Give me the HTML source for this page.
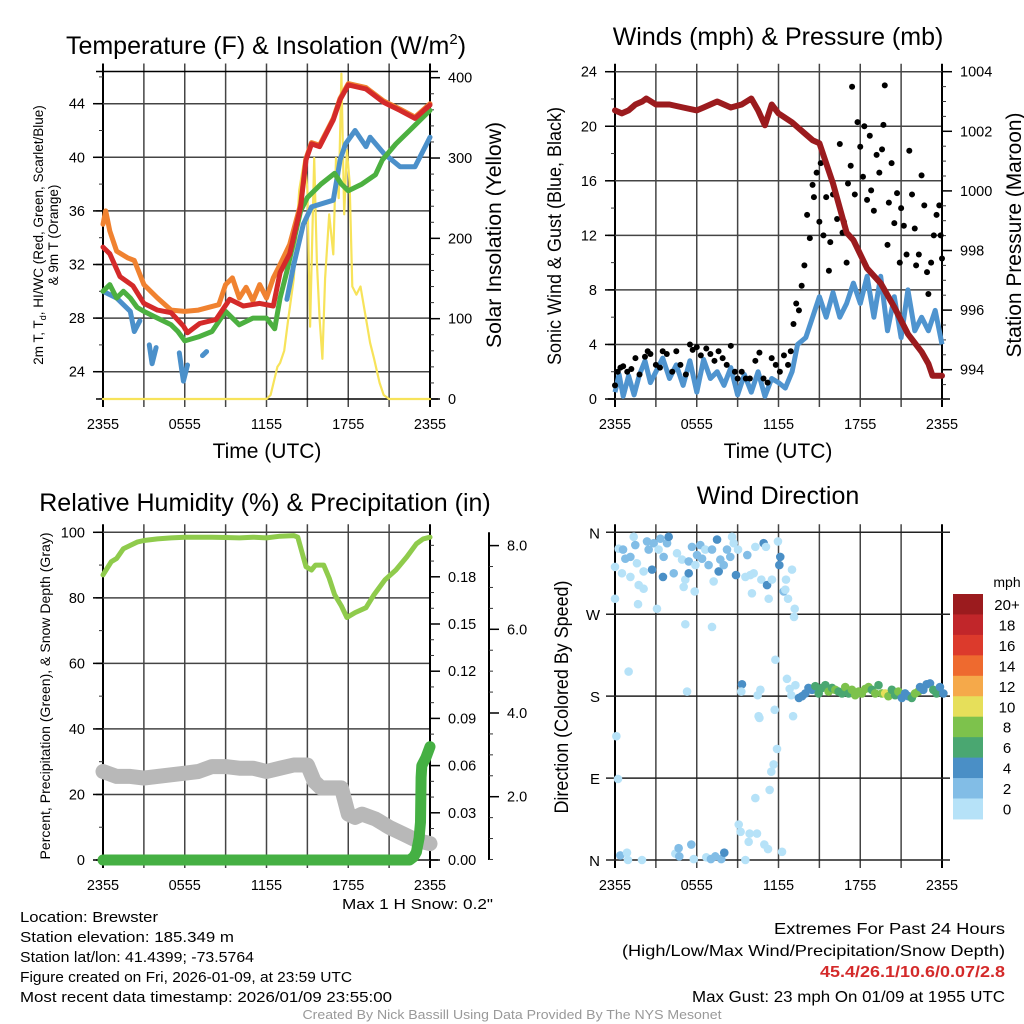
<!DOCTYPE html>
<html><head><meta charset="utf-8"><style>
html,body{margin:0;padding:0;background:#fff}
svg{display:block;font-family:"Liberation Sans",sans-serif}
</style></head><body>
<svg id="c" width="1024" height="1024" viewBox="0 0 1024 1024" xmlns="http://www.w3.org/2000/svg"></svg>
<script>
// ---------- DATA ----------
const xTickLabels = ["2355","0555","1155","1755","2355"];
// Panel 1: temperature (F), hours since 2355
const redT = [0,0.5,1.25,2.2,3,4,5,5.9,6.2,7.1,8.3,9.3,10.3,11.5,12.5,13,13.7,14.5,14.9,15.3,15.9,16.9,17.4,18,19.3,20.6,21.8,22.9,24];
const redV = [33.3,32.8,31.1,30.4,29.1,28.6,28.4,27.4,26.9,27.6,27.9,29.4,28.9,29.1,28.9,31.4,32.8,36.3,39.8,41.0,40.8,42.8,44.3,45.4,45.1,44.1,43.5,42.9,43.9];
const orangeT = [0,0.2,0.5,1,1.8,2.3,3,4,5,6,7,8.5,9,9.5,10,10.5,11,11.5,12,12.5,13,13.7,14.5,14.9,15.3,15.9,16.9,17.4,18,19.3,20.6,21.8,22.9,24];
const orangeV = [35,36,34.5,33,32.5,32.3,30.5,29.5,28.6,28.5,28.6,29,30.5,31,29.5,30.3,29.3,30.5,29.5,31,32,33.5,36.5,39.9,41.1,40.9,42.9,44.4,45.5,45.2,44.2,43.6,43,44];
const greenT = [0,0.5,1,1.5,2,2.5,3,4,5,5.5,6,7,8,9,10,11,12,12.6,13,13.5,14.5,15,16,17,17.5,18,19,20,20.5,21.5,22.5,24];
const greenV = [30,30.5,29.5,30,29.5,28.8,28.5,28,27.5,27,26.3,26.6,27,28.5,27.5,28,28,27.2,29.5,31.5,36,37,38,38.8,38,37.5,38,38.7,39.8,41,42,43.5];
const blueT = [0,1,2,2.3,2.7,2.9,3.4,3.6,3.9,4.2,5.2,5.6,5.9,6.2,6.5,7.0,7.3,7.6,7.9,12.9,13.5,14,14.7,15.3,16.9,17.4,17.8,18.5,19.3,19.6,20.6,21.8,22.9,24];
const blueV = [30,29.5,28.5,27,27.8,null,26,24.6,25.8,null,null,25.4,23.3,24.5,null,null,25.2,25.5,null,null,29.4,32,35,36.3,36.8,39.8,41,42,40.8,41.5,40.3,39.3,39.3,41.5];
const solarT = [0,12,12.3,12.8,13,13.3,13.6,14,14.4,14.8,15,15.2,15.5,15.7,15.9,16.1,16.3,16.6,16.9,17.1,17.3,17.5,17.7,17.9,18.1,18.3,18.6,18.9,19.3,19.6,19.9,20.3,20.6,21,24];
const solarV = [0,0,5,40,45,60,100,150,260,300,260,90,300,170,100,50,150,230,180,300,250,405,230,310,270,140,130,140,100,70,50,20,5,0,0];
// Panel 2: wind & pressure
const presT = [0,0.5,1,1.5,2,2.3,3,4,5,6,6.5,7.5,8.5,9.3,10,10.5,11,11.5,12,13,14,14.5,15,16,17,17.5,18.5,19.5,20.5,21.5,22.5,23,23.3,24];
const presV = [1002.7,1002.6,1002.7,1002.9,1003.0,1003.1,1002.9,1002.9,1002.8,1002.7,1002.8,1003.0,1002.8,1002.9,1003.1,1002.7,1002.2,1002.9,1002.6,1002.3,1001.9,1001.7,1001.6,1000.25,998.6,998.35,997.4,996.9,996.1,995.2,994.6,994.2,993.8,993.8];
const windT = [0,0.3,0.6,1,1.4,1.8,2.2,2.6,3,3.5,4,4.5,5,5.5,6,6.5,7,7.5,8,8.5,9,9.5,10,10.5,11,11.5,12,12.5,13,13.4,14,14.5,15,15.5,16,16.5,17,17.5,18,18.5,19,19.5,20,20.5,21,21.5,22,22.5,23,23.5,24];
const windV = [0.5,1.8,0.2,1.7,0.3,1.8,2.8,1.2,2,3,1.5,2.5,1,2.8,0.5,2.9,1.5,2,1,2.3,0.3,1.8,0.5,2,0.2,1.5,1.2,0.8,2,4,4.5,6,7.5,6,7.8,6,7,8.5,7,9,6,9,5,7.5,4.5,8,5,6,5,6.5,4];
const gustT = [0,0.2,0.4,0.6,0.9,1.2,1.5,1.8,2.2,2.4,2.6,3,3.3,3.5,3.8,4.2,4.5,4.8,5.2,5.5,5.7,6,6.3,6.7,7,7.3,7.6,7.9,8.2,8.5,8.8,9,9.3,9.6,9.9,10.3,10.6,10.9,11.2,11.5,11.8,12.1,12.4,12.7,12.9,13.1,13.3,13.5,13.7,13.9,14.1,14.3,14.5,14.6,14.8,15,15.1,15.3,15.5,15.7,15.8,16,16.3,16.5,16.7,16.8,17,17.1,17.3,17.4,17.6,17.8,18,18.2,18.3,18.5,18.7,18.8,19,19.2,19.4,19.6,19.7,19.8,20,20.1,20.3,20.5,20.7,20.9,21,21.2,21.4,21.6,21.8,22,22.1,22.3,22.5,22.7,22.9,23,23.2,23.4,23.6,23.8,23.9,24];
const gustV = [1,2,2.3,2.4,2,2.2,3,1.8,3.1,3.5,3.3,2.5,2.3,3.5,3.3,2,3.5,2.5,1.8,4,3.6,3.8,3.2,3.7,3.3,2.8,3.5,3,2.5,3.9,2,1.5,2,1.5,1.5,2.8,3.4,1.5,1.2,3,2.5,2,3.2,2.5,3.5,5.5,7,6.5,8.3,9.8,13.5,11.8,15.7,14.8,16.6,13,17.3,12,14.8,9.4,11.5,15,13.2,18.7,12.2,13,10,15.8,17.1,22.9,15,20.3,18.5,16.3,20,14.6,19.3,15.3,13.8,17.9,16.6,18.3,20.1,23,11.3,14.4,17.3,12.9,15.1,10,14,12.7,10.6,18.2,15,12.5,9.8,10.6,16.4,14.2,9.3,7.7,10,12,13.5,14.2,12,10.3];
// Panel 3: RH, snow depth (plotted on % axis), precip (in)
const rhT = [0,0.3,0.6,1,1.5,2,2.5,3,4,5,6,8,9,10,11,12,13,14,14.3,14.6,14.9,15.3,15.6,16.2,16.6,17,17.5,17.9,18.5,19.3,19.9,20.7,21.5,22.3,23,23.5,24];
const rhV = [87,89,91,92,95,96,97,97.5,98,98.3,98.5,98.5,98.4,98.3,98.5,98.3,98.8,99,98.5,94,89.5,88.5,90,90,86,81,77.5,74,75.5,77,81,85.5,88.5,92.5,96.5,98,98.5];
const snowT = [0,1,2,3,4,5,6,7,8,9,10,11,12,13,14,15,15.5,16,17,17.5,18,18.5,19,20,21,22,23,24];
const snowV = [27,25.5,25.5,25,25.5,26,26.5,27,28.5,28.5,28,28,27,28,29,29,24,22,22,22,14,13,14,12.5,10,8,6,5];
const precT = [0,22.5,22.8,23,23.2,23.3,23.35,23.4,23.7,24];
const precV = [0,0,0.002,0.005,0.014,0.024,0.0525,0.06,0.065,0.072];
// Panel 4: wind direction (deg) colored by speed (mph)
const dirT = [0,0.27,0.59,0.76,1.13,1.37,1.49,1.61,0.51,1.13,0,1.74,2.1,1.69,2.1,2.35,2.47,2.72,2.84,3.2,3.33,3.57,3.82,3.94,3.52,3.08,4.31,4.55,4.92,5.16,5.04,5.41,5.41,5.65,5.85,5.9,6.02,6.26,6.39,6.63,6.87,7.12,7.24,7.49,7.61,7.73,7.98,8.22,8.46,8.59,8.71,8.88,9.03,9.57,9.71,9.93,10.05,10.18,10.3,10.74,10.91,11.08,11.16,11.28,11.52,11.96,12.06,12.13,12.38,12.5,12.55,12.7,12.99,13.19,13.14,7.12,5.16,
 1,5.29,9.32,9.27,10.47,10.67,10.54,10.6,11.72,11.77,12.62,12.82,12.94,13.07,13.24,
 0.1,0.22,11.89,11.64,11.47,11.35,10.3,9.08,9.22,9.88,10.42,9.81,10.96,11.23,12.26,
 0.39,0.88,0.95,1.98,4.43,4.67,4.72,5.6,5.78,6.7,7.04,7.36,7.8,8.02,9.57,
 13.5,13.73,13.97,14.2,14.46,14.7,14.95,15.19,15.44,15.68,15.93,16.17,16.41,16.66,16.9,17.15,17.39,17.63,17.88,18.12,18.37,18.61,18.85,19.1,19.34,19.59,19.83,20.07,20.32,20.56,20.8,21.05,21.29,21.53,21.78,22.02,22.26,22.39,22.63,22.87,23.12,23.36,23.6,23.85,24.1];
const dirV = [322,342,341,331,333,355,346,326,315,311,287,302,298,281,317,350,341,319,348,341,353,333,348,355,311,276,315,337,330,308,300,315,328,344,295,324,335,346,331,341,324,341,306,352,317,330,324,341,333,355,348,313,341,311,335,313,293,315,344,308,348,344,302,287,308,350,324,333,295,297,308,287,319,276,267,256,259,
 207,185,193,185,181,187,158,156,165,220,199,188,181,158,192,
 136,89,122,105,97,77,68,39,31,29,29,20,17,12,9,
 5,8,0,0,7,13,4,17,1,3,1,4,1,8,0,
 178,180,183,189,187,191,183,189,192,185,189,187,185,183,190,183,187,181,185,183,188,190,187,183,192,183,183,180,187,181,185,178,183,180,178,183,185,190,187,193,194,187,183,190,183];
const dirS = [1,1,3,3,3,1,3,1,1,1,1,1,1,1,1,3,3,4,3,1,3,3,3,4,4,1,3,1,1,1,1,4,3,3,1,1,3,3,3,1,3,3,1,4,4,3,3,3,3,1,1,4,1,1,3,1,1,1,1,1,4,1,4,1,1,1,4,4,3,1,1,1,1,1,1,1,1,
 1,1,4,1,1,1,1,1,1,1,1,1,1,1,1,
 1,1,1,1,1,1,1,1,1,1,1,1,1,1,1,
 3,1,1,1,1,3,3,3,1,1,3,3,3,4,1,
 4,4,4,4,5,6,7,6,7,8,6,8,7,6,8,7,8,8,8,8,8,8,7,8,6,8,10,8,6,6,8,4,5,4,6,8,8,4,4,4,4,6,6,4,4];
const cbLabels = ["20+","18","16","14","12","10","8","6","4","2","0"];
const cbColors = ["#9b1b1e","#c1262a","#dc3a2c","#ee6a2f","#f5a94a","#e6df5a","#7dc24c","#4aa771","#4a8fc6","#82bde6","#b6e2f8"];

// ---------- DRAW ----------
const NS="http://www.w3.org/2000/svg";
const svg=document.getElementById('c');
function mk(tag,attrs,parent){const e=document.createElementNS(NS,tag);for(const k in attrs)e.setAttribute(k,attrs[k]);(parent||svg).appendChild(e);return e;}
function lin(d0,d1,r0,r1){return v=>r0+(v-d0)*(r1-r0)/(d1-d0);}
function txt(x,y,s,size,anchor,parent,extra){const t=mk('text',Object.assign({x:x,y:y,'font-size':size,'text-anchor':anchor||'middle',fill:'#000'},extra||{}),parent);t.textContent=s;return t;}
function pathD(ts,vs,X,Y){let d='',pen=false;for(let i=0;i<ts.length;i++){if(vs[i]===null){pen=false;continue;}d+=(pen?'L':'M')+X(ts[i]).toFixed(1)+' '+Y(vs[i]).toFixed(1);pen=true;}return d;}

function frame(g,yTop,yBot,X){
  for(let h=0;h<=24;h+=3){const x=X(h);
    const l=mk('line',{x1:x,x2:x,y1:yTop-8,y2:yBot+8,stroke:(h===0||h===24)?'#000':'#444','stroke-width':(h===0||h===24)?2:1.5},g);
    
    
  }
  for(let i=0;i<xTickLabels.length;i++){const t=txt(X(i*6),yBot+30,xTickLabels[i],14.5,'middle',g);
    
    }
}
function yAxis(g,x,side,yTop,yBot,Y,major,minor,majLo,majHi,minLo,minHi,fmt,gridX1,gridX0){
  const dir=side==='left'?-1:1;
  mk('line',{x1:x,x2:x,y1:yTop,y2:yBot,stroke:'#000','stroke-width':2},g);
  const nMin=Math.round((minHi-minLo)/minor);
  for(let k=0;k<=nMin;k++){const y=Y(minLo+k*minor);if(y<yTop-1||y>yBot+1)continue;
    mk('line',{x1:x,x2:x+dir*4,y1:y,y2:y,stroke:'#333','stroke-width':1},g);}
  const nMaj=Math.round((majHi-majLo)/major);
  for(let k=0;k<=nMaj;k++){const v=majLo+k*major;const y=Y(v);
    if(gridX1!==undefined){const gl=mk('line',{x1:gridX0,x2:gridX1,y1:y,y2:y,stroke:'#444','stroke-width':1.5},g);
      
      }
    mk('line',{x1:x,x2:x+dir*10,y1:y,y2:y,stroke:'#000','stroke-width':1.5},g);
    const t=txt(x+dir*18,y+5,fmt(v),14.5,side==='left'?'end':'start',g);
    
    
  }
}
function rot(x,y,size,g,name,len){const a={transform:`translate(${x},${y}) rotate(-90)`,'font-size':size,'text-anchor':'middle',fill:'#000'};
  if(len){a.textLength=len;a.lengthAdjust='spacingAndGlyphs';}
  const t=mk('text',a,g);
  
  
  return t;}
function fit(t,len){t.setAttribute('textLength',len);t.setAttribute('lengthAdjust','spacingAndGlyphs');}

// ===== Panel 1 =====
(function(){
 const g=mk('g',{});
 const X=lin(0,24,103,430), Y=lin(44,24,103.7,371.7), YS=lin(0,400,399,77.7);
 frame(g,71.5,399,X);
 mk('line',{x1:96,x2:438,y1:71.5,y2:71.5,stroke:'#000','stroke-width':1.5},g);
 mk('line',{x1:96,x2:438,y1:399,y2:399,stroke:'#000','stroke-width':1.5},g);
 yAxis(g,103,'left',71.5,399,Y,4,2,24,44,22,46,v=>String(v),430,96);
 yAxis(g,430,'right',71.5,399,YS,100,20,0,400,0,400,v=>String(v));
 const s=[[solarT,solarV,'#f7e35a',2.2,YS,'solar-insolation-line'],[orangeT,orangeV,'#f08230',5,Y,'9m-temp-line'],[blueT,blueV,'#4b90ca',5,Y,'dewpoint-line'],[greenT,greenV,'#4cb040',5,Y,'green-temp-line'],[redT,redV,'#d42a2a',5,Y,'2m-temp-line']];
 for(const [t,v,c,w,YY,n] of s){const p=mk('path',{d:pathD(t,v,X,YY),fill:'none',stroke:c,'stroke-width':w,'stroke-linejoin':'round','stroke-linecap':'round'},g);
   
   }
 const tt=txt(266,54,'Temperature (F) & Insolation (W/m',25,'middle',g);const sp=mk('tspan',{dy:-10,'font-size':15},tt);sp.textContent='2';const sp2=mk('tspan',{dy:10},tt);sp2.textContent=')';
 
 const xt=txt(267,458,'Time (UTC)',21,'middle',g);
 const l1=rot(43,235,13.5,g,'temp-y-axis-title');
 const a=mk('tspan',{x:0,y:0},l1);a.textContent='2m T, T';const b=mk('tspan',{'font-size':9,dy:3},l1);b.textContent='d';const c=mk('tspan',{dy:-3},l1);c.textContent=', HI/WC (Red, Green, Scarlet/Blue)';
 const d=mk('tspan',{x:0,dy:15},l1);d.textContent='& 9m T (Orange)';
 const r=rot(501,235,21,g,'solar-y-axis-title',226);r.textContent='Solar Insolation (Yellow)';
})();

// ===== Panel 2 =====
(function(){
 const g=mk('g',{});
 const X=lin(0,24,615,942), Y=lin(0,24,399,71.7), YP=lin(1004,994,71.7,369.7);
 frame(g,71.7,399,X);
 mk('line',{x1:608,x2:950,y1:399,y2:399,stroke:'#000','stroke-width':1.5},g);
 yAxis(g,615,'left',71.7,399,Y,4,2,0,24,0,24,v=>String(v),942,608);
 yAxis(g,942,'right',71.7,399,YP,2,0.5,994,1004,993,1004,v=>String(v));
 const w=mk('path',{d:pathD(windT,windV,X,Y),fill:'none',stroke:'#4f94cf','stroke-width':5,'stroke-linejoin':'round'},g);
 
 for(let i=0;i<gustT.length;i++){const c=mk('circle',{cx:X(gustT[i]),cy:Y(gustV[i]),r:3,fill:'#000'},g);
   
   }
 const p=mk('path',{d:pathD(presT,presV,X,YP),fill:'none',stroke:'#9b1b1e','stroke-width':6,'stroke-linejoin':'round','stroke-linecap':'round'},g);
 
 const tt=txt(778,45,'Winds (mph) & Pressure (mb)',25,'middle',g);
 const xt=txt(778,458,'Time (UTC)',21,'middle',g);
 const l=rot(561,236,19,g,'wind-y-axis-title',258);l.textContent='Sonic Wind & Gust (Blue, Black)';
 const r=rot(1021,235,21,g,'pressure-y-axis-title',245);r.textContent='Station Pressure (Maroon)';
})();

// ===== Panel 3 =====
(function(){
 const g=mk('g',{});
 const X=lin(0,24,103,430), Y=lin(0,100,860,532.3), YP=lin(0,0.03,860,812.8), YSn=lin(0,2,880.4,796.7);
 frame(g,532.3,860,X);
 mk('line',{x1:96,x2:438,y1:860,y2:860,stroke:'#000','stroke-width':1.5},g);
 yAxis(g,103,'left',532.3,860,Y,20,10,0,100,0,100,v=>String(v),430,96);
 yAxis(g,430,'right',532.3,860,YP,0.03,0.01,0,0.18,0,0.2,v=>v.toFixed(2));
 yAxis(g,489,'right',532.3,860,YSn,2,0.5,2,8,0.5,8.5,v=>v.toFixed(1));
 const sn=mk('path',{d:pathD(snowT,snowV,X,Y),fill:'none',stroke:'#b8b8b8','stroke-width':15,'stroke-linejoin':'round','stroke-linecap':'round'},g);
 
 const pr=mk('path',{d:pathD(precT,precV,X,YP),fill:'none',stroke:'#45b043','stroke-width':11,'stroke-linejoin':'round','stroke-linecap':'round'},g);
 
 const rh=mk('path',{d:pathD(rhT,rhV,X,Y),fill:'none',stroke:'#8fcb4c','stroke-width':5,'stroke-linejoin':'round','stroke-linecap':'round'},g);
 
 const tt=txt(265,511,'Relative Humidity (%) & Precipitation (in)',25,'middle',g);
 const l=rot(50,696,14,g,'humidity-y-axis-title',327);l.textContent='Percent, Precipitation (Green), & Snow Depth (Gray)';
 const m=txt(493,909,'Max 1 H Snow: 0.2"',15,'end',g);fit(m,151);
})();

// ===== Panel 4 =====
(function(){
 const g=mk('g',{});
 const X=lin(0,24,615,942), Y=lin(0,360,860,532.3);
 frame(g,532.3,860,X);
 const dl=['N','E','S','W','N'];
 for(let i=0;i<5;i++){const y=Y(i*90);const gl=mk('line',{x1:606,x2:950,y1:y,y2:y,stroke:'#222','stroke-width':1.5},g);
   
   const t=txt(600,y+6,dl[i],15,'end',g);}
 for(let i=0;i<dirT.length;i++){const bin=Math.min(10,Math.floor(dirS[i]/2));
   const c=mk('circle',{cx:X(Math.min(24.1,dirT[i])),cy:Y(dirV[i]),r:4.3,fill:cbColors[10-bin]},g);
   
   }
 const cbTop=594, cbH=20.45;
 for(let i=0;i<cbColors.length;i++){const r=mk('rect',{x:953,y:cbTop+i*cbH,width:30,height:cbH+0.5,fill:cbColors[i]},g);
   
   const t=txt(1007,cbTop+i*cbH+16,cbLabels[i],15,'middle',g);}
 const u=txt(1007,587,'mph',14,'middle',g);
 const tt=txt(778,504,'Wind Direction',25,'middle',g);
 const l=rot(568,697,19,g,'direction-y-axis-title',233);l.textContent='Direction (Colored By Speed)';
})();

// ===== Footer =====
const leftLines=['Location: Brewster','Station elevation: 185.349 m','Station lat/lon: 41.4399; -73.5764','Figure created on Fri, 2026-01-09, at 23:59 UTC','Most recent data timestamp: 2026/01/09 23:55:00'];
const leftLens=[138,214,234,332,372];
for(let i=0;i<leftLines.length;i++){const t=txt(20,922+i*20,leftLines[i],15,'start');fit(t,leftLens[i]);
  }
const r1=txt(1005,934,'Extremes For Past 24 Hours',16,'end');fit(r1,231);
const r2=txt(1005,956,'(High/Low/Max Wind/Precipitation/Snow Depth)',16,'end');fit(r2,383);
const r3=txt(1005,977,'45.4/26.1/10.6/0.07/2.8',16,'end',null,{fill:'#d42a2a','font-weight':'bold'});fit(r3,185);
const r4=txt(1005,1002,'Max Gust: 23 mph On 01/09 at 1955 UTC',16,'end');fit(r4,313);
const cr=txt(512,1019,'Created By Nick Bassill Using Data Provided By The NYS Mesonet',12.5,'middle',null,{fill:'#999'});fit(cr,419);
</script>
</body></html>
